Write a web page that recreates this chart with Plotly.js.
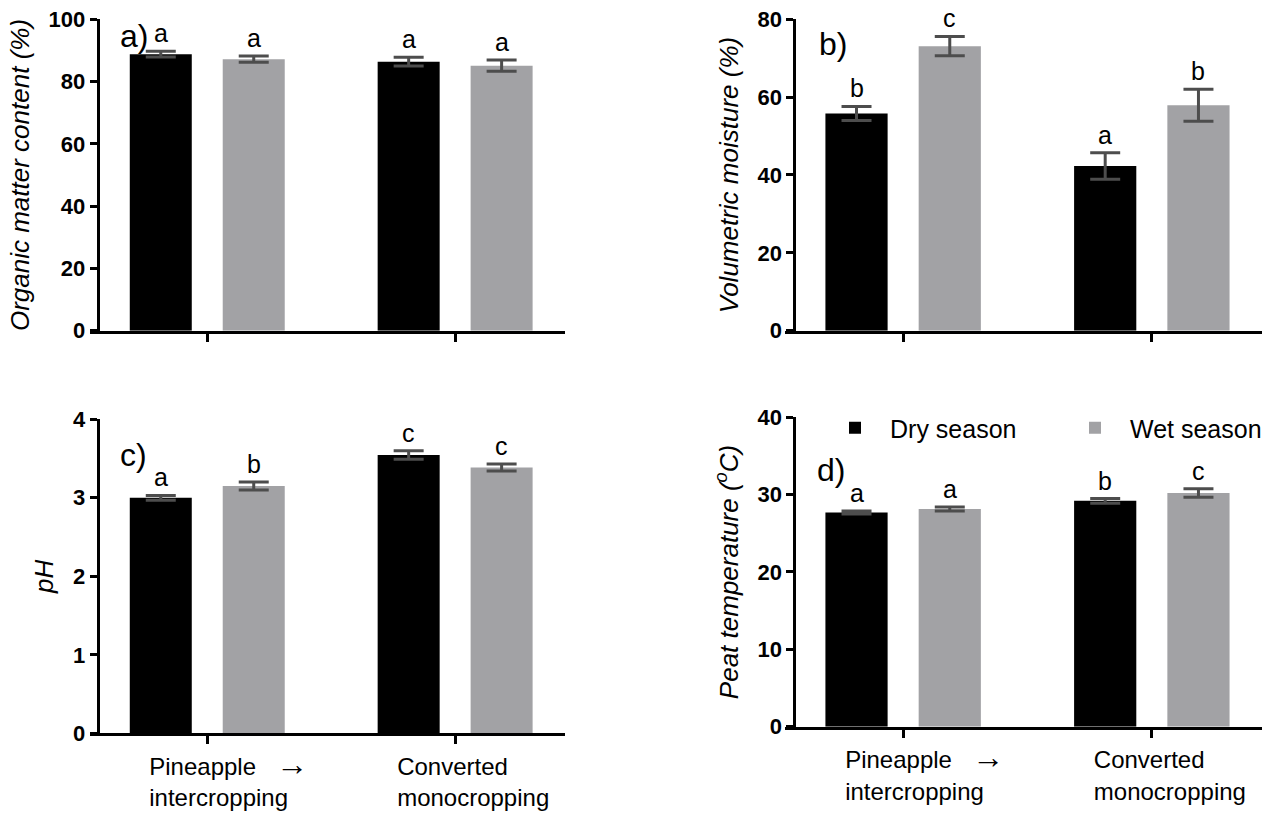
<!DOCTYPE html>
<html>
<head>
<meta charset="utf-8">
<script src="https://cdn.plot.ly/plotly-3.0.1.min.js"></script>
<style>html,body{margin:0;padding:0;background:#fff;}#chart{width:1275px;height:813px;}</style>
</head>
<body>
<div id="chart"></div>
<script>
// ---------- data ----------
const categories = ['Pineapple intercropping', 'Converted monocropping'];
const tickText = ['Pineapple\u00a0\u00a0\u00a0<span style="font-size:32px">\u2192</span><br>intercropping',
                  'Converted<br>monocropping'];
const seriesNames = ['Dry season', 'Wet season'];

const organicDry = [88.8, 86.4];
const organicDryErr = [0.9, 1.4];
const organicWet = [87.2, 85.1];
const organicWetErr = [1.0, 1.8];
const organicDryLetters = ['a', 'a'];
const organicWetLetters = ['a', 'a'];

const moistureDry = [55.8, 42.3];
const moistureDryErr = [1.8, 3.4];
const moistureWet = [73.1, 57.9];
const moistureWetErr = [2.5, 4.1];
const moistureDryLetters = ['b', 'a'];
const moistureWetLetters = ['c', 'b'];

const phDry = [3.00, 3.545];
const phDryErr = [0.03, 0.055];
const phWet = [3.15, 3.385];
const phWetErr = [0.05, 0.045];
const phDryLetters = ['a', 'c'];
const phWetLetters = ['b', 'c'];

const tempDry = [27.7, 29.2];
const tempDryErr = [0.2, 0.3];
const tempWet = [28.15, 30.2];
const tempWetErr = [0.25, 0.55];
const tempDryLetters = ['a', 'b'];
const tempWetLetters = ['a', 'c'];

const panelLabels = ['a)', 'b)', 'c)', 'd)'];
const yTitles = ['Organic matter content (%)', 'Volumetric moisture (%)', 'pH', 'Peat temperature (<sup>o</sup>C)'];
const yMax = [100, 80, 4, 40];
const yDtick = [20, 20, 1, 10];

// ---------- styling ----------
const FONT = 'Liberation Sans, Arial, Helvetica, sans-serif';
const DRY_COLOR = '#000000';
const WET_COLOR = '#a2a2a5';
const ERR_COLOR = '#4d4d4d';
const BARGAP = 0.25, BARGROUPGAP = 0.333;
const slot = (1 - BARGAP) / 2;
const offsets = [-slot / 2, slot / 2];

const panels = [
  {dry: organicDry, dryErr: organicDryErr, wet: organicWet, wetErr: organicWetErr, dl: organicDryLetters, wl: organicWetLetters},
  {dry: moistureDry, dryErr: moistureDryErr, wet: moistureWet, wetErr: moistureWetErr, dl: moistureDryLetters, wl: moistureWetLetters},
  {dry: phDry, dryErr: phDryErr, wet: phWet, wetErr: phWetErr, dl: phDryLetters, wl: phWetLetters},
  {dry: tempDry, dryErr: tempDryErr, wet: tempWet, wetErr: tempWetErr, dl: tempDryLetters, wl: tempWetLetters}
];

const xDomains = [[0.0702, 0.4431], [0.6157, 0.9898], [0.0702, 0.4431], [0.6157, 0.9898]];
const yDomains = [[0.5932, 0.9763], [0.5932, 0.9763], [0.0980, 0.4843], [0.1062, 0.4867]];
const yPos = [0.0765, 0.623, 0.0765, 0.623];
const labelPos = [[-0.359, 94.6], [-0.347, 73.7], [-0.359, 3.54], [-0.355, 33.2]];

const xIdx = categories.map((c, i) => i);
const traces = [];
const annotations = [];
const layout = {
  width: 1275, height: 813, autosize: false,
  margin: {l: 0, r: 0, t: 0, b: 0, pad: 0, autoexpand: false},
  paper_bgcolor: '#ffffff', plot_bgcolor: '#ffffff',
  font: {family: FONT, color: '#000000', size: 22},
  barmode: 'group', bargap: BARGAP, bargroupgap: BARGROUPGAP,
  showlegend: true,
  legend: {orientation: 'h', x: 820 / 1275, y: 1 - 405 / 813, xanchor: 'left', yanchor: 'top',
           itemwidth: 60, entrywidth: 165, entrywidthmode: 'pixels',
           font: {family: FONT, size: 25, color: '#000'}, bgcolor: 'rgba(0,0,0,0)', traceorder: 'normal'},
  annotations: annotations
};

panels.forEach((p, k) => {
  const n = k === 0 ? '' : String(k + 1);
  const xa = 'x' + n, ya = 'y' + n;
  [[p.dry, p.dryErr, DRY_COLOR, seriesNames[0], p.dl], [p.wet, p.wetErr, WET_COLOR, seriesNames[1], p.wl]].forEach((s, j) => {
    traces.push({
      type: 'bar', x: xIdx, y: s[0], name: s[3], xaxis: xa, yaxis: ya,
      marker: {color: s[2], line: {width: 0}},
      error_y: {type: 'data', array: s[1], visible: true, color: ERR_COLOR, thickness: 3, width: 15},
      showlegend: k === 3, legendgroup: s[3], hoverinfo: 'y'
    });
    s[0].forEach((v, i) => {
      annotations.push({
        xref: xa, yref: ya, x: i + offsets[j], y: v + s[1][i], text: s[4][i],
        showarrow: false, xanchor: 'center', yanchor: 'bottom', yshift: 2,
        font: {family: FONT, size: 25, color: '#000'}
      });
    });
  });
  annotations.push({
    xref: xa, yref: ya, x: labelPos[k][0], y: labelPos[k][1], text: panelLabels[k],
    showarrow: false, xanchor: 'left', yanchor: 'middle',
    font: {family: FONT, size: 32, color: '#000'}
  });
  layout['xaxis' + n] = {
    domain: xDomains[k], anchor: ya, range: [-0.475, 1.443],
    tickmode: 'array', tickvals: xIdx, ticktext: tickText, showticklabels: k >= 2,
    ticks: 'outside', ticklen: 8, tickwidth: 3, tickcolor: '#000',
    showline: true, linewidth: 3, linecolor: '#000', showgrid: false, zeroline: false,
    ticklabelposition: 'outside right', ticklabelshift: -61, ticklabelstandoff: 10,
    tickfont: {family: FONT, size: 24, color: '#000'}, fixedrange: true, automargin: false
  };
  layout['yaxis' + n] = {
    domain: yDomains[k], anchor: 'free', position: yPos[k], range: [0, yMax[k]],
    tickmode: 'linear', tick0: 0, dtick: yDtick[k],
    ticks: 'outside', ticklen: 7, tickwidth: 3, tickcolor: '#000',
    showline: true, linewidth: 3, linecolor: '#000', showgrid: false, zeroline: false,
    tickfont: {family: FONT, size: 22, color: '#000', weight: 'bold'},
    title: {text: yTitles[k], standoff: 10, font: {family: FONT, size: 26, color: '#000', style: 'italic'}},
    fixedrange: true, automargin: false
  };
});

Plotly.newPlot('chart', traces, layout, {displayModeBar: false, staticPlot: true});
</script>
</body>
</html>
